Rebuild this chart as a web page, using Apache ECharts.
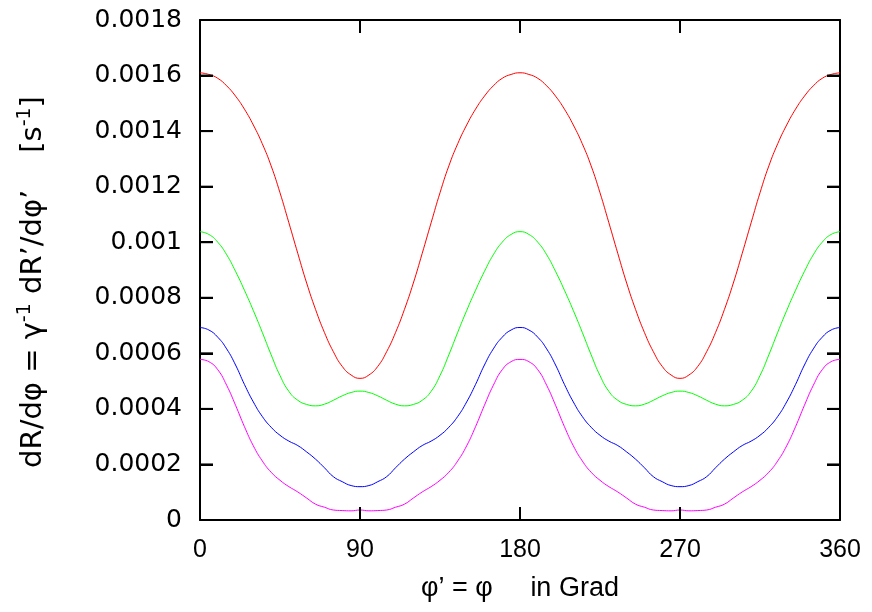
<!DOCTYPE html>
<html>
<head>
<meta charset="utf-8">
<script src="https://cdn.jsdelivr.net/npm/echarts@6/dist/echarts.min.js"></script>
<style>
html,body{margin:0;padding:0;background:#fff;}
#c{width:872px;height:612px;}
</style>
</head>
<body>
<div id="c"></div>
<script>
// x values (degrees)
const angles = [0,5,10,15,20,25,30,35,40,45,50,55,60,65,70,75,80,85,90,
  95,100,105,110,115,120,125,130,135,140,145,150,155,160,165,170,175,180,
  185,190,195,200,205,210,215,220,225,230,235,240,245,250,255,260,265,270,
  275,280,285,290,295,300,305,310,315,320,325,330,335,340,345,350,355,360];

const xTicks = [0, 90, 180, 270, 360];
const yTicks = [0, 0.0002, 0.0004, 0.0006, 0.0008, 0.001, 0.0012, 0.0014, 0.0016, 0.0018];

// values in units of 1e-6 s^-1
const redValues = [1610,1604,1590,1563,1526,1479,1422,1355,1275,1178,1070,960,853,758,675,606,553,522,510,
  522,553,606,675,758,853,960,1070,1178,1275,1355,1422,1479,1526,1563,1590,1604,1610,
  1604,1590,1563,1526,1479,1422,1355,1275,1178,1070,960,853,758,675,606,553,522,510,
  522,553,606,675,758,853,960,1070,1178,1275,1355,1422,1479,1526,1563,1590,1604,1610];

const greenValues = [1038,1028,1000,955,895,827,754,676,595,520,463,431,416,411,417,431,447,459,464,
  459,447,431,417,411,416,431,463,520,595,676,754,827,895,955,1000,1028,1038,
  1028,1000,955,895,827,754,676,595,520,463,431,416,411,417,431,447,459,464,
  459,447,431,417,411,416,431,463,520,595,676,754,827,895,955,1000,1028,1038];

const blueValues = [693,684,658,616,558,488,425,373,334,305,284,268,245,219,188,156,138,124,120,
  124,138,156,188,219,245,268,284,305,334,373,425,488,558,616,658,684,693,
  684,658,616,558,488,425,373,334,305,284,268,245,219,188,156,138,124,120,
  124,138,156,188,219,245,268,284,305,334,373,425,488,558,616,658,684,693];

const magentaValues = [578,570,541,485,413,336,267,213,172,143,120,101,79,57,46,36,34,33,36,
  33,34,36,46,57,79,101,120,143,172,213,267,336,413,485,541,570,578,
  570,541,485,413,336,267,213,172,143,120,101,79,57,46,36,34,33,36,
  33,34,36,46,57,79,101,120,143,172,213,267,336,413,485,541,570,578];

const VALUE_UNIT = 1e-6;

const seriesDefs = [
  {name: 'red', values: redValues, color: '#ff0000'},
  {name: 'green', values: greenValues, color: '#00ff00'},
  {name: 'blue', values: blueValues, color: '#0000ff'},
  {name: 'magenta', values: magentaValues, color: '#ff00ff'}
];

const FONT = '"Liberation Sans", Arial, sans-serif';
const WIDE = '"DejaVu Sans", sans-serif';
const TICK_LEN = 13; // px
const X_MIN = xTicks[0], X_MAX = xTicks[xTicks.length - 1];
const Y_MIN = yTicks[0], Y_MAX = yTicks[yTicks.length - 1];
const GRID = {left: 200, right: 32, top: 20, bottom: 92};

const el = document.getElementById('c');
const chart = echarts.init(el, null, {renderer: 'canvas'});

const plotW = chart.getWidth() - GRID.left - GRID.right;
const plotH = chart.getHeight() - GRID.top - GRID.bottom;
const tickDX = TICK_LEN * (X_MAX - X_MIN) / plotW;  // tick length in x data units
const tickDY = TICK_LEN * (Y_MAX - Y_MIN) / plotH;  // tick length in y data units

const fmtY = v => {
  if (Math.abs(v) < 1e-12) return '0';
  return String(+v.toFixed(4));
};

function axisLine() { return {show: true, onZero: false, lineStyle: {color: '#000', width: 2}}; }
function axisTick() { return {show: true, inside: true, length: TICK_LEN, lineStyle: {color: '#000', width: 2}}; }

// Mirrored inward tick marks, drawn as short segments through the axes' scales
function tickSeries(segment) {
  return {
    type: 'line', silent: true, z: 10, clip: false, animation: false,
    symbol: 'none', showSymbol: false, smooth: false,
    lineStyle: {color: '#000', width: 2},
    tooltip: {show: false},
    data: segment
  };
}
const tickSeriesList = [];
xTicks.forEach(v => {
  tickSeriesList.push(tickSeries([[v, Y_MIN], [v, Y_MIN + tickDY]]));
  tickSeriesList.push(tickSeries([[v, Y_MAX], [v, Y_MAX - tickDY]]));
});
yTicks.forEach(v => {
  tickSeriesList.push(tickSeries([[X_MIN, v], [X_MIN + tickDX, v]]));
  tickSeriesList.push(tickSeries([[X_MAX, v], [X_MAX - tickDX, v]]));
});

const option = {
  animation: false,
  backgroundColor: '#fff',
  grid: Object.assign({containLabel: false}, GRID),
  xAxis: [
    {
      type: 'value', min: X_MIN, max: X_MAX, interval: 90,
      position: 'bottom',
      axisLine: axisLine(), axisTick: axisTick(), splitLine: {show: false},
      axisLabel: {show: true, margin: 18, color: '#000', fontSize: 25, fontFamily: FONT},
      name: 'φ’ = φ     in Grad', nameLocation: 'middle', nameGap: 55,
      nameTextStyle: {color: '#000', fontSize: 27, fontFamily: FONT}
    },
    {
      type: 'value', min: X_MIN, max: X_MAX, interval: 90,
      position: 'top',
      axisLine: axisLine(), axisTick: axisTick(), splitLine: {show: false},
      axisLabel: {show: false}
    }
  ],
  yAxis: [
    {
      type: 'value', min: Y_MIN, max: Y_MAX, interval: 0.0002,
      position: 'left',
      axisLine: axisLine(), axisTick: axisTick(), splitLine: {show: false},
      axisLabel: {show: true, margin: 18, color: '#000', fontSize: 25, fontFamily: WIDE, formatter: fmtY},
      name: 'dR/dφ = γ{sup|-1} dR’/dφ’    [s{sup|-1}]',
      nameLocation: 'middle', nameGap: 150, nameRotate: 90,
      nameTextStyle: {
        color: '#000', fontSize: 29, fontFamily: WIDE, lineHeight: 34,
        padding: [0, 24, 0, 0],
        rich: {sup: {fontSize: 19, fontFamily: WIDE, color: '#000', verticalAlign: 'top', lineHeight: 34, padding: [0, 0, 14, 0]}}
      }
    },
    {
      type: 'value', min: Y_MIN, max: Y_MAX, interval: 0.0002,
      position: 'right',
      axisLine: axisLine(), axisTick: axisTick(), splitLine: {show: false},
      axisLabel: {show: false}
    }
  ],
  series: seriesDefs.map(s => ({
    name: s.name,
    type: 'line',
    xAxisIndex: 0,
    yAxisIndex: 0,
    smooth: 0.5,
    showSymbol: false,
    symbol: 'none',
    lineStyle: {color: s.color, width: 1},
    data: angles.map((a, i) => [a, s.values[i] * VALUE_UNIT])
  })).concat(tickSeriesList)
};

chart.setOption(option);
</script>
</body>
</html>
